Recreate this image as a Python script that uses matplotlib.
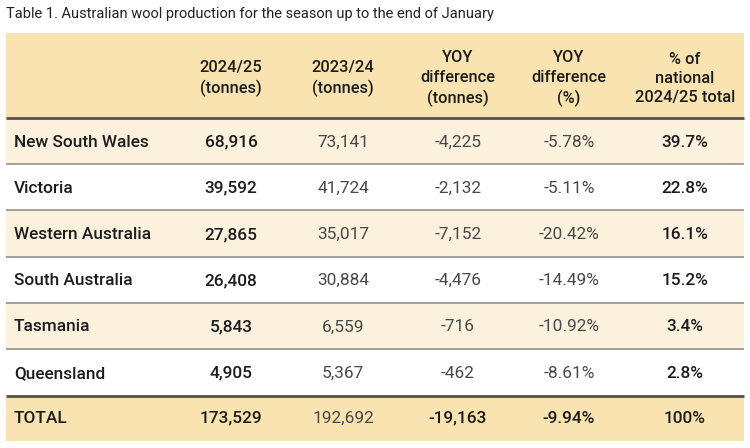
#!/usr/bin/env python3
"""Table 1: Australian wool production, season to end of January."""

import matplotlib.pyplot as plt
from matplotlib.patches import Rectangle

plt.rcParams["font.family"] = ["Roboto", "DejaVu Sans"]

TITLE = "Table 1. Australian wool production for the season up to the end of January"
HEADERS = [
    "2024/25\n(tonnes)",
    "2023/24\n(tonnes)",
    "YOY\ndifference\n(tonnes)",
    "YOY\ndifference\n(%)",
    "% of\nnational\n2024/25 total",
]
REGIONS = ["New South Wales", "Victoria", "Western Australia", "South Australia",
           "Tasmania", "Queensland"]
SEASON_2425 = [68916, 39592, 27865, 26408, 5843, 4905]
SEASON_2324 = [73141, 41724, 35017, 30884, 6559, 5367]
YOY_TONNES = [-4225, -2132, -7152, -4476, -716, -462]
YOY_PCT = [-5.78, -5.11, -20.42, -14.49, -10.92, -8.61]
SHARE_PCT = [39.7, 22.8, 16.1, 15.2, 3.4, 2.8]
TOTAL = ["TOTAL", 173529, 192692, -19163, -9.94, 100]

HEAD_BG = "#f9e3b1"
ALT_BG = "#fcf1dd"
DARK = "#1c1c1c"
GREY = "#484848"

W, H = 750, 448
LEFT, RIGHT = 6, 744
HEAD_TOP, HEAD_BOT = 33, 118
ROW_H = 46.2
COL_X = [231, 343, 458, 569, 685]
BODY_FS = 12.4


def fmt_row(t25, t24, dt, dp, sh):
    return [f"{t25:,}", f"{t24:,}", f"{dt:,}", f"{dp:.2f}%", f"{sh:.1f}%"]


fig = plt.figure(figsize=(W / 100, H / 100), dpi=100)
ax = fig.add_axes([0, 0, 1, 1])
ax.set_xlim(0, W)
ax.set_ylim(H, 0)
ax.axis("off")

ax.text(LEFT, 14, TITLE, fontsize=10.5, color="#222222", va="center", ha="left")

# header band
ax.add_patch(Rectangle((LEFT, HEAD_TOP), RIGHT - LEFT, HEAD_BOT - HEAD_TOP,
                       facecolor=HEAD_BG, edgecolor="none"))
for x, label in zip(COL_X, HEADERS):
    ax.text(x, 78.5, label, fontsize=11.8, color=DARK,
            ha="center", va="center", linespacing=1.36, fontweight="medium")
ax.plot([LEFT, RIGHT], [HEAD_BOT, HEAD_BOT], color="#55524a", lw=2.0,
        solid_capstyle="butt", zorder=3)

# body rows
for i, region in enumerate(REGIONS):
    top = HEAD_BOT + i * ROW_H
    mid = top + ROW_H / 2 + 1
    if i % 2 == 0:
        ax.add_patch(Rectangle((LEFT, top), RIGHT - LEFT, ROW_H,
                               facecolor=ALT_BG, edgecolor="none"))
    if i > 0:
        ax.plot([LEFT, RIGHT], [top, top], color="#9a9890", lw=1.3,
                solid_capstyle="butt", zorder=3)
    ax.text(14, mid, region, fontsize=BODY_FS, color=DARK, ha="left", va="center",
            fontweight="medium")
    cells = fmt_row(SEASON_2425[i], SEASON_2324[i], YOY_TONNES[i], YOY_PCT[i], SHARE_PCT[i])
    for j, (x, cell) in enumerate(zip(COL_X, cells)):
        bold = j in (0, 4)
        ax.text(x, mid, cell, fontsize=BODY_FS, ha="center", va="center",
                color=DARK if bold else GREY,
                fontweight="medium" if bold else "normal")

# total row
top = HEAD_BOT + len(REGIONS) * ROW_H + 1
mid = top + ROW_H / 2
ax.add_patch(Rectangle((LEFT, top), RIGHT - LEFT, 441 - top,
                       facecolor=HEAD_BG, edgecolor="none"))
ax.plot([LEFT, RIGHT], [top, top], color="#55524a", lw=2.0,
        solid_capstyle="butt", zorder=3)
ax.text(14, mid - 1, TOTAL[0], fontsize=BODY_FS, color=DARK, ha="left", va="center",
        fontweight="medium")
total_cells = [f"{TOTAL[1]:,}", f"{TOTAL[2]:,}", f"{TOTAL[3]:,}",
               f"{TOTAL[4]:.2f}%", f"{TOTAL[5]}%"]
for j, (x, cell) in enumerate(zip(COL_X, total_cells)):
    plain = j == 1
    ax.text(x, mid - 1, cell, fontsize=BODY_FS, ha="center", va="center",
            color=GREY if plain else DARK,
            fontweight="normal" if plain else "medium")

fig.savefig("out.png", dpi=100, facecolor="white")
plt.close(fig)
